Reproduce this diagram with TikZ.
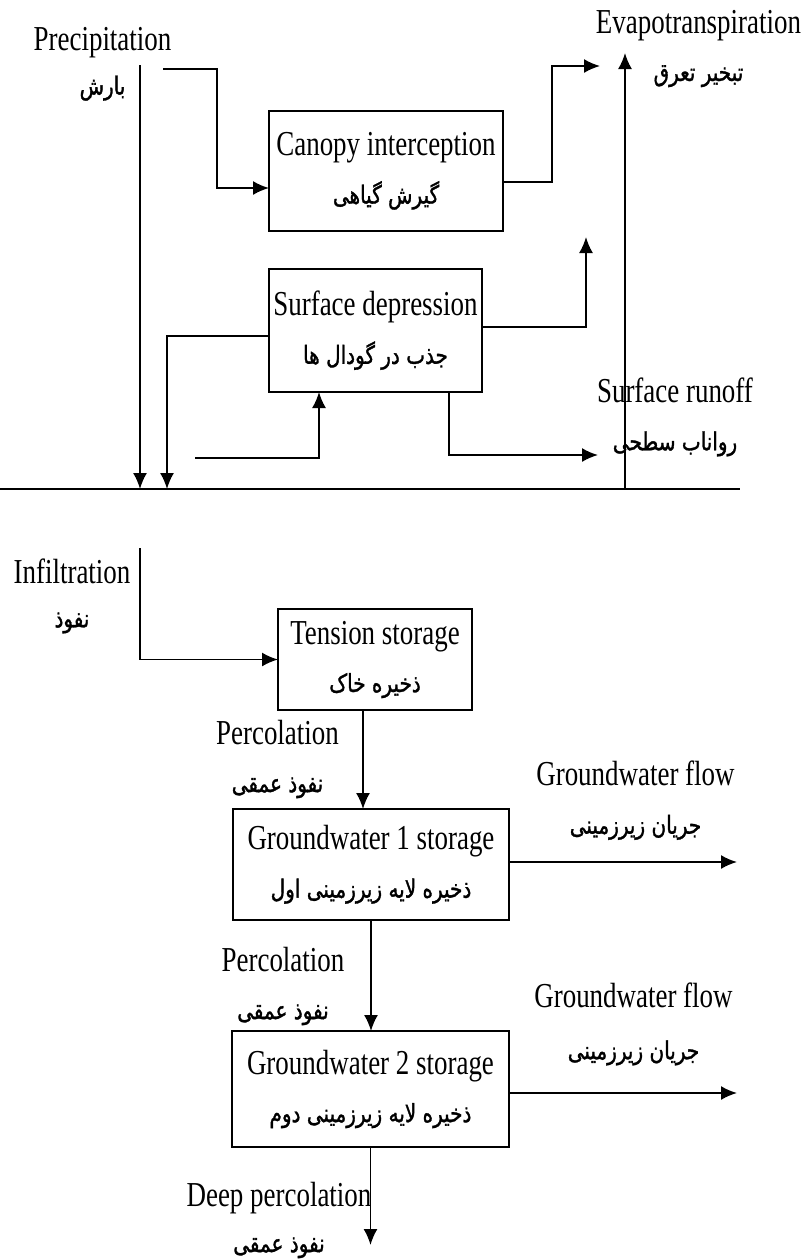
\documentclass[tikz,border=0pt]{standalone}
\usepackage{fontspec}
\setmainfont{Liberation Serif}[FakeStretch=0.77]
\newfontfamily\fafont[Script=Arabic,FakeBold=1.3,FakeStretch=0.8]{DejaVu Sans}
\TeXXeTstate=1
\newcommand{\fa}[1]{{\fafont\fontsize{12.5}{24}\selectfont\beginR #1\endR}}
\usetikzlibrary{positioning}
\usetikzlibrary{arrows.meta}

\begin{document}
\begin{tikzpicture}[x=0.5pt,y=-0.5pt,>={Latex[length=8pt,width=7pt]},line width=0.9pt,
	box/.style={draw=black,align=center,inner sep=0pt,outer sep=0pt,font=\fontsize{17.5}{24}\selectfont},
	lbl/.style={align=center,inner sep=0pt,font=\fontsize{17.5}{24}\selectfont}]
	\useasboundingbox (0,0) rectangle (807,1260);

	% storages
	\node [box,minimum width=117pt,minimum height=60pt] at (386,171) (canopy) {Canopy interception\\\fa{گیرش گیاهی}};
	\node [box,minimum width=106.5pt,minimum height=61.5pt] at (375.5,330.5) (depress) {Surface depression\\\fa{جذب در گودال ها}};
	\node [box,minimum width=97pt,minimum height=50.5pt] at (375,659.5) (tension) {Tension storage\\\fa{ذخیره خاک}};
	\node [box,minimum width=138pt,minimum height=55.5pt] at (371,864.5) (gw1) {Groundwater 1 storage\\\fa{ذخیره لایه زیرزمینی اول}};
	\node [box,minimum width=138.5pt,minimum height=58pt] at (370.5,1089) (gw2) {Groundwater 2 storage\\\fa{ذخیره لایه زیرزمینی دوم}};

	% flux labels
	\node [lbl] at (102.5,64) (precip_txt) {Precipitation\\[-2pt]\fa{بارش}};
	\node [lbl] at (698.5,48.5) (evap_txt) {Evapotranspiration\\\fa{تبخیر تعرق}};
	\node [lbl] at (675,417) (runoff_txt) {Surface runoff\\\fa{رواناب سطحی}};
	\node [lbl] at (72,596) (infil_txt) {Infiltration\\[-2pt]\fa{نفوذ}};
	\node [lbl] at (277.5,759) (perc1_txt) {Percolation\\\fa{نفوذ عمقی}};
	\node [lbl] at (635.5,800.5) (gwf1_txt) {Groundwater flow\\\fa{جریان زیرزمینی}};
	\node [lbl] at (283,986) (perc2_txt) {Percolation\\\fa{نفوذ عمقی}};
	\node [lbl] at (633.5,1024) (gwf2_txt) {Groundwater flow\\[2pt]\fa{جریان زیرزمینی}};
	\node [lbl] at (279,1220) (deep_txt) {Deep percolation\\[-1pt]\fa{نفوذ عمقی}};

	% land surface
	\coordinate (ground_l) at (0,489);
	\coordinate (ground_r) at (740,489);
	\draw (ground_l) -- (ground_r);

	\coordinate (precip_a) at (140,65);
	\draw[->] (precip_a) -- (precip_a |- ground_l);
	\coordinate (precip_b) at (163,69);
	\coordinate (can_in) at (217,188);
	\draw[->] (precip_b) -| (can_in) -- (can_in -| canopy.west);

	\coordinate (can_out) at (552,182);
	\coordinate (evap_in) at (600,66);
	\draw[->] (can_out -| canopy.east) -- (can_out) |- (evap_in);

	\coordinate (evap_up) at (625,53);
	\draw[->] (evap_up |- ground_l) -- (evap_up);

	\coordinate (dep_l) at (167,336);
	\draw[->] (dep_l -| depress.west) -- (dep_l) -- (dep_l |- ground_l);
	\coordinate (dep_r) at (586,327);
	\coordinate (dep_up) at (586,237);
	\draw[->] (dep_r -| depress.east) -- (dep_r) -- (dep_up);
	\coordinate (dep_in) at (195,458);
	\coordinate (dep_b) at (319,458);
	\draw[->] (dep_in) -- (dep_b) -- (dep_b |- depress.south);
	\coordinate (run_b) at (449,455);
	\coordinate (run_end) at (598,455);
	\draw[->] (run_b |- depress.south) -- (run_b) -- (run_end);

	% soil and groundwater
	\coordinate (infil_a) at (140,548);
	\draw[->] (infil_a) |- (tension.west);
	\draw[->] ([xshift=-6pt]tension.south) -- ([xshift=-6pt]tension.south |- gw1.north);
	\draw[->] (gw1.south) -- (gw1.south |- gw2.north);
	\coordinate (deep_end) at (370,1245);
	\draw[->] (gw2.south) -- (gw2.south |- deep_end);
	\coordinate (gwf_end) at (737,0);
	\draw[->] ([yshift=1.25pt]gw1.east) -- ([yshift=1.25pt]gw1.east -| gwf_end);
	\draw[->] ([yshift=-2pt]gw2.east) -- ([yshift=-2pt]gw2.east -| gwf_end);
\end{tikzpicture}
\end{document}
